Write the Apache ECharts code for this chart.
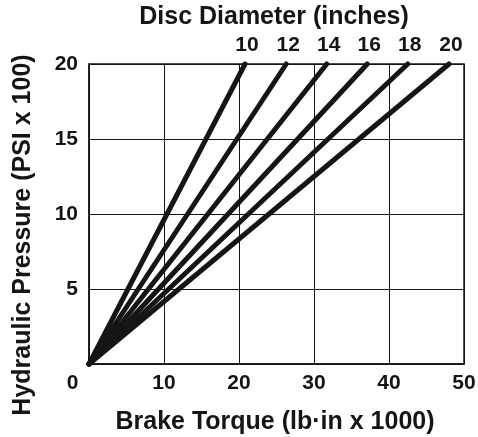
<!DOCTYPE html>
<html><head><meta charset="utf-8">
<script src="https://cdn.jsdelivr.net/npm/echarts@6/dist/echarts.min.js"></script>
<style>html,body{margin:0;padding:0;background:#fff}#c{width:478px;height:437px}</style>
</head><body><div id="c"></div>
<script>
var diameters = ['10', '12', '14', '16', '18', '20'];
var torqueAtTop = [20.8, 26.3, 31.7, 37.1, 42.5, 48.0];
var pressureTop = 20;
var xTicks = [0, 10, 20, 30, 40, 50];
var yTicks = [5, 10, 15, 20];
var topTitle = 'Disc Diameter (inches)';
var xTitle = 'Brake Torque (lb\u00b7in x 1000)';
var yTitle = 'Hydraulic Pressure (PSI x 100)';

var FONT = '"Liberation Sans", Arial, sans-serif';
var INK = '#151515';
var chart = echarts.init(document.getElementById('c'), null, {renderer: 'canvas'});
var series = diameters.map(function (d, i) {
  return {
    type: 'line', name: d, symbol: 'circle', symbolSize: 0, showSymbol: true, clip: false, silent: true,
    lineStyle: {color: INK, width: 5, cap: 'round'},
    itemStyle: {color: INK},
    data: [
      {value: [0, 0], label: {show: false}},
      {value: [torqueAtTop[i], pressureTop], label: {show: true, position: 'top', distance: 8, offset: [2, 0], formatter: d,
        fontFamily: FONT, fontWeight: 'bold', fontSize: 21, color: INK}}
    ]
  };
});
var titleFont = 'bold 25px ' + FONT;
chart.setOption({
  animation: false,
  graphic: [
    {type: 'text', x: 274, y: 17, style: {text: topTitle, font: titleFont, fill: INK, align: 'center', verticalAlign: 'middle'}},
    {type: 'text', x: 275, y: 422, style: {text: xTitle, font: titleFont, fill: INK, align: 'center', verticalAlign: 'middle'}},
    {type: 'text', x: 23, y: 235, rotation: Math.PI / 2, style: {text: yTitle, font: titleFont, fill: INK, align: 'center', verticalAlign: 'middle'}}
  ],
  grid: {left: 89, right: 14, top: 64, bottom: 73, outerBoundsMode: 'none', containLabel: false,
    show: true, borderColor: INK, borderWidth: 1.5, backgroundColor: 'transparent'},
  xAxis: {type: 'value', min: 0, max: 50, interval: 10,
    axisLine: {lineStyle: {color: INK, width: 1.5}}, axisTick: {show: false},
    splitLine: {show: true, lineStyle: {color: INK, width: 1}},
    axisLabel: {margin: 9, fontFamily: FONT, fontWeight: 'bold', fontSize: 21, color: INK,
      formatter: function (v) { return v === 0 ? '{z|0}' : (xTicks.indexOf(v) >= 0 ? String(v) : ''); },
      rich: {z: {fontFamily: FONT, fontWeight: 'bold', fontSize: 21, color: INK, padding: [0, 33, 0, 0]}}}
  },
  yAxis: {type: 'value', min: 0, max: 20, interval: 5,
    axisLine: {lineStyle: {color: INK, width: 1.5}}, axisTick: {show: false},
    splitLine: {show: true, lineStyle: {color: INK, width: 1}},
    axisLabel: {margin: 11, fontFamily: FONT, fontWeight: 'bold', fontSize: 21, color: INK,
      formatter: function (v) { return yTicks.indexOf(v) >= 0 ? String(v) : ''; }}
  },
  series: series
});
</script></body></html>
